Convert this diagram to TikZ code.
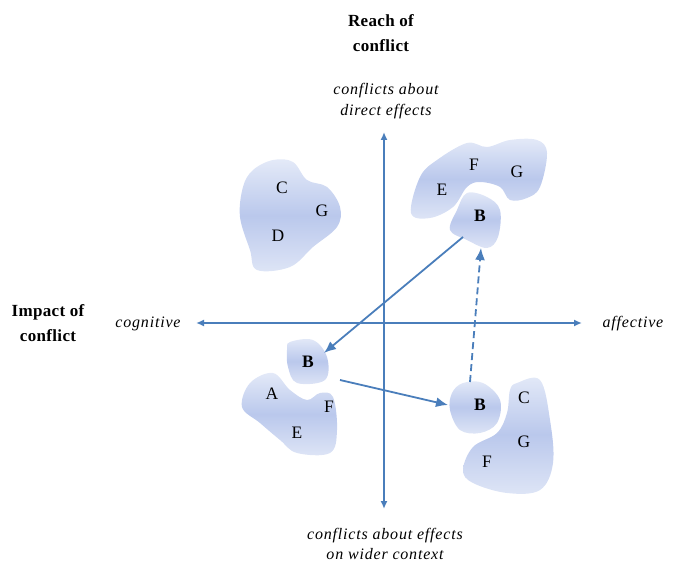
\documentclass[tikz,border=0pt]{standalone}
\usepackage{fontspec}
\setmainfont{Liberation Serif}
\usetikzlibrary{arrows.meta}
\definecolor{axisblue}{RGB}{74,126,187}
\definecolor{blobtop}{RGB}{228,234,248}
\definecolor{blobmid}{RGB}{186,200,236}
\definecolor{blobbot}{RGB}{222,229,246}
\tikzset{
  blob/.style={top color=blobtop, bottom color=blobbot, middle color=blobmid, draw=none},
  letter/.style={font=\fontsize{17.5}{17.5}\selectfont, inner sep=0pt},
  bletter/.style={letter, font=\fontsize{17.5}{17.5}\selectfont\bfseries},
  axisline/.style={draw=axisblue, line width=1.8pt, {Latex[length=8pt,width=7pt]}-{Latex[length=8pt,width=7pt]}},
  move/.style={draw=axisblue, line width=1.8pt, -{Latex[length=12pt,width=10pt]}},
  movedash/.style={move, dash pattern=on 7pt off 4pt},
  axtitle/.style={font=\fontsize{17}{24.5}\selectfont\bfseries\addfontfeature{LetterSpace=2}, align=center, inner sep=0pt},
  axlabel/.style={font=\fontsize{16}{21.5}\selectfont\itshape\addfontfeature{LetterSpace=5}, align=center, inner sep=0pt},
  axlabelb/.style={axlabel, font=\fontsize{16}{20}\selectfont\itshape\addfontfeature{LetterSpace=5}}
}
\begin{document}
\begin{tikzpicture}[x=1pt,y=-1pt]
\useasboundingbox (0,0) rectangle (678,564);

% blobs
\shade[blob] plot[smooth cycle, tension=0.6] coordinates {(243,187) (253,170) (273,160) (293,162) (307,180) (327,187) (340,207) (337,227) (313,247) (290,267) (257,270) (250,250) (240,217)};
\shade[blob] plot[smooth cycle, tension=0.6] coordinates {(411,213) (420,177) (437,160) (467,143) (487,147) (510,140) (537,140) (547,153) (540,187) (527,198) (510,200) (500,187) (480,182) (467,187) (453,207) (430,218)};
\shade[blob] plot[smooth cycle, tension=0.6] coordinates {(467,193) (487,197) (500,210) (498,237) (487,248) (467,240) (450,230) (457,210)};
\shade[blob] plot[smooth cycle, tension=0.6] coordinates {(290,342) (313,340) (327,357) (325,380) (297,383) (288,367) (287,350)};
\shade[blob] plot[smooth cycle, tension=0.6] coordinates {(250,383) (273,373) (290,390) (307,400) (320,393) (333,397) (337,430) (330,453) (297,453) (280,440) (260,423) (242,407)};
\shade[blob] plot[smooth cycle, tension=0.6] coordinates {(463,383) (483,383) (500,400) (497,423) (480,433) (460,430) (450,410) (452,393)};
\shade[blob] plot[smooth cycle, tension=0.6] coordinates {(517,383) (540,380) (550,420) (553,463) (540,490) (507,493) (473,483) (463,470) (473,447) (497,433) (507,413) (510,390)};

% letters
\node[letter] (c1) at (282,188) {C};
\node[letter] (g1) at (322,211) {G};
\node[letter] (d1) at (278,236) {D};
\node[letter] (f2) at (474,165) {F};
\node[letter] (g2) at (517,172) {G};
\node[letter] (e2) at (442,190) {E};
\node[bletter] (b1) at (480,216) {B};
\node[bletter] (b2) at (308,362) {B};
\node[letter] (a3) at (272,394) {A};
\node[letter] (f3) at (329,407) {F};
\node[letter] (e3) at (297,433) {E};
\node[bletter] (b3) at (480,405) {B};
\node[letter] (c4) at (524,398) {C};
\node[letter] (g4) at (524,442) {G};
\node[letter] (f4) at (487,462) {F};

% titles and labels
\node[axtitle] (reach) at (381,33) {Reach of\\conflict};
\node[axtitle] (impact) at (48,323) {Impact of\\conflict};
\node[axlabel] (direct) at (386,101) {conflicts about\\direct effects};
\node[axlabelb] (wider) at (385,544) {conflicts about effects\\on wider context};
\node[axlabel] (cog) at (148,324) {cognitive};
\node[axlabel] (aff) at (633,324) {affective};

% axes
\coordinate (vtop) at (384,132);
\coordinate (vbot) at (384,509);
\coordinate (hl) at (196,323);
\coordinate (hr) at (582,323);
\draw[axisline] (vbot) -- (vtop);
\draw[axisline] (hl) -- (hr);

% movements
\coordinate (s1) at (463,237);
\coordinate (t1) at (324,353);
\coordinate (s2) at (340,380);
\coordinate (t2) at (448,405);
\coordinate (s3) at (470,382);
\coordinate (t3) at (481,248);
\draw[move] (s1) -- (t1);
\draw[move] (s2) -- (t2);
\draw[movedash] (s3) -- (t3);
\end{tikzpicture}
\end{document}
